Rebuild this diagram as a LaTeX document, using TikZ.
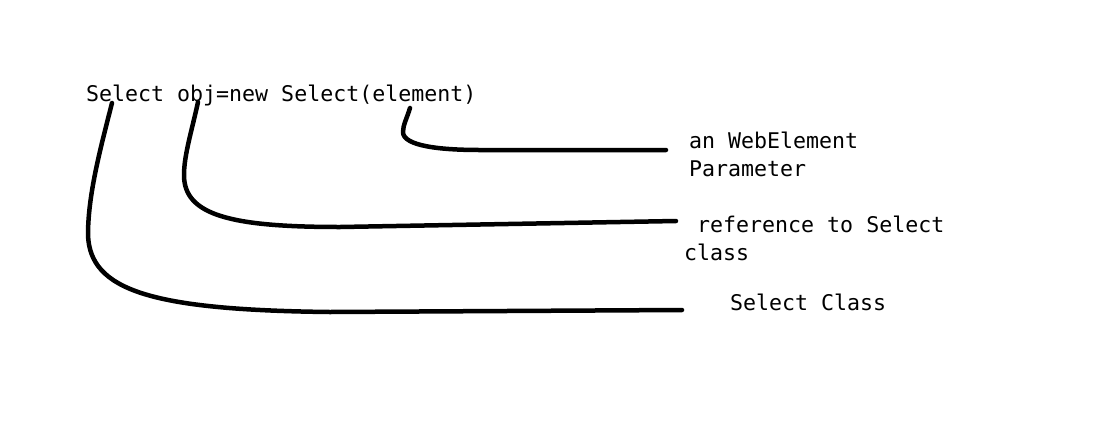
\documentclass[tikz,border=0pt]{standalone}
\usepackage{fontspec}
\newfontfamily\codefont{DejaVu Sans Mono}
\usepackage{tikz}

\tikzset{
  codetext/.style={anchor=base west, inner sep=0pt, align=left,
    font=\codefont\fontsize{21.6}{28}\selectfont},
  pencil/.style={line width=4.5pt, line cap=round, line join=round}
}

\begin{document}
\begin{tikzpicture}[x=1pt, y=-1pt]
        \fill[white] (0,0) rectangle (1096,424);
        \useasboundingbox (0,0) rectangle (1096,424);
        \node[codetext] (stmt)  at (86, 101) {Select obj=new Select(element)};
        \node[codetext] (param) at (689, 176) {an WebElement\\Parameter};
        \node[codetext] (ref)   at (684, 260) {\ reference to Select\\class};
        \node[codetext] (cls)   at (730, 310) {Select Class};
        \coordinate (clsstart)   at (112, 103);
        \coordinate (refstart)   at (198, 102);
        \coordinate (paramstart) at (410, 108);
        \coordinate (clsend)     at (682, 310);
        \coordinate (refend)     at (676, 221);
        \coordinate (paramend)   at (666, 150);
        \draw[pencil] (paramstart) .. controls (407, 118) and (403, 125) .. (403, 132)
                      .. controls (403, 146) and (440, 150) .. (480, 150) -- (paramend);
        \draw[pencil] (refstart) .. controls (192, 130) and (184, 155) .. (184, 175)
                      .. controls (184, 215) and (230, 227) .. (340, 227) -- (refend);
        \draw[pencil] (clsstart) .. controls (100, 150) and (88, 195) .. (88, 235)
                      .. controls (90, 290) and (150, 310) .. (330, 312) -- (clsend);
\end{tikzpicture}
\end{document}
